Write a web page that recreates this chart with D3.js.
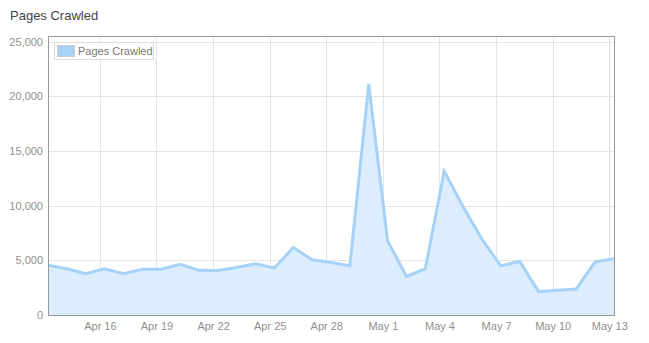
<!DOCTYPE html>
<html>
<head>
<meta charset="utf-8">
<script src="https://cdn.jsdelivr.net/npm/d3@7"></script>
<style>
  body { margin: 0; background: #fff; }
  svg { font-family: "Liberation Sans", Arial, sans-serif; }
</style>
</head>
<body>
<div id="chart"></div>
<script>
// daily values, Apr 13 .. May 13
const startDay = "2012-04-13"
const pagesCrawled = [4540, 4230, 3770, 4230, 3770, 4180, 4180, 4640, 4080, 4060,
    4340, 4690, 4300, 6170, 5050, 4790, 4510, 21100, 6780, 3520,
    4230, 13150, 9890, 6940, 4490, 4920, 2140, 2270, 2380, 4850, 5150]
const xTicks = ["2012-04-16", "2012-04-19", "2012-04-22", "2012-04-25", "2012-04-28",
    "2012-05-01", "2012-05-04", "2012-05-07", "2012-05-10", "2012-05-13"]
const yTicks = [0, 5000, 10000, 15000, 20000, 25000]

const W = 649, H = 343
const plot = { left: 48, right: 614, top: 36, bottom: 315 }

const parse = d3.utcParse("%Y-%m-%d")
const day = 86400000
// points sit a quarter day after midnight
const t0 = parse(startDay).getTime() + day * 0.25
const series = pagesCrawled.map((v, i) => ({ date: new Date(t0 + i * day), value: v }))

const svg = d3.select("#chart").append("svg")
    .attr("width", W)
    .attr("height", H)

svg.append("text")
    .attr("x", 10).attr("y", 20)
    .attr("font-size", 13)
    .attr("fill", "#444")
    .text("Pages Crawled")

const x = d3.scaleUtc()
    .domain(d3.extent(series, d => d.date))
    .range([plot.left, plot.right])

const y = d3.scaleLinear()
    .domain([0, 25000])
    .range([plot.bottom, 41.5])

const g = svg.append("g")

// grid
g.append("g").selectAll("line")
    .data(yTicks)
    .enter().append("line")
    .attr("x1", plot.left).attr("x2", plot.right)
    .attr("y1", d => Math.round(y(d)) + 0.5).attr("y2", d => Math.round(y(d)) + 0.5)
    .attr("stroke", "#e4e4e4")

g.append("g").selectAll("line")
    .data(xTicks.map(parse))
    .enter().append("line")
    .attr("y1", plot.top).attr("y2", plot.bottom)
    .attr("x1", d => Math.round(x(d)) + 0.5).attr("x2", d => Math.round(x(d)) + 0.5)
    .attr("stroke", "#e4e4e4")

// area + line
const area = d3.area()
    .x(d => x(d.date))
    .y0(y(0))
    .y1(d => y(d.value))
const line = d3.line()
    .x(d => x(d.date))
    .y(d => y(d.value))

g.append("path")
    .datum(series)
    .attr("d", area)
    .attr("fill", "#dcedfd")

g.append("path")
    .datum(series)
    .attr("d", line)
    .attr("fill", "none")
    .attr("stroke", "#a6d2f8")
    .attr("stroke-width", 3)
    .attr("stroke-linejoin", "miter")
    .attr("stroke-miterlimit", 4)

// frame
svg.append("rect")
    .attr("x", plot.left + 0.5).attr("y", plot.top + 0.5)
    .attr("width", plot.right - plot.left).attr("height", plot.bottom - plot.top)
    .attr("fill", "none")
    .attr("stroke", "#9a9a9a")

// axes
const yAxis = svg.append("g")
    .attr("transform", "translate(" + (plot.left - 5) + ",0)")
    .call(d3.axisLeft(y).tickValues(yTicks).tickFormat(d3.format(",")).tickSize(0).tickPadding(0))
yAxis.select(".domain").remove()
yAxis.selectAll("text")
    .attr("font-size", 11)
    .attr("fill", "#8f8f8f")
    .attr("font-family", "Liberation Sans, Arial, sans-serif")
yAxis.selectAll(".tick")
    .filter(d => d == 25000)
    .attr("transform", "translate(0,42)")

const xAxis = svg.append("g")
    .attr("transform", "translate(0," + (plot.bottom + 7) + ")")
    .call(d3.axisBottom(x).tickValues(xTicks.map(parse)).tickFormat(d3.utcFormat("%b %-d")).tickSize(0).tickPadding(0))
xAxis.select(".domain").remove()
xAxis.selectAll("text")
    .attr("font-size", 11)
    .attr("fill", "#8f8f8f")
    .attr("font-family", "Liberation Sans, Arial, sans-serif")

// legend
const legend = svg.append("g").attr("transform", "translate(54,42)")
legend.append("rect")
    .attr("x", 0.5).attr("y", 0.5)
    .attr("width", 99).attr("height", 17)
    .attr("fill", "#fff").attr("fill-opacity", 0.85)
    .attr("stroke", "#dcdcdc")
legend.append("rect")
    .attr("x", 3.5).attr("y", 3.5)
    .attr("width", 17).attr("height", 11)
    .attr("fill", "#a6d2f8")
    .attr("stroke", "#ccc")
legend.append("text")
    .attr("x", 24).attr("y", 13)
    .attr("font-size", 11)
    .attr("fill", "#777")
    .text("Pages Crawled")
</script>
</body>
</html>
